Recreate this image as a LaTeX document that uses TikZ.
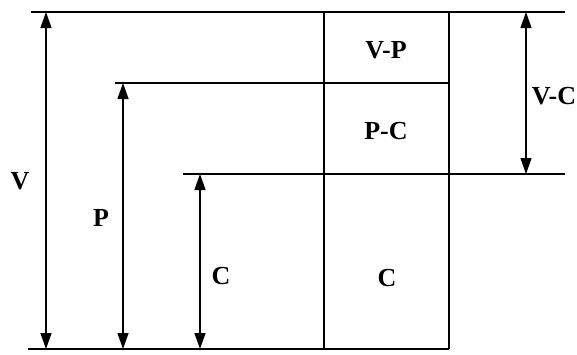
\documentclass[tikz,border=0pt]{standalone}
\usepackage{fontspec}
\setmainfont{Liberation Serif}
\usetikzlibrary{arrows.meta}
\begin{document}
\begin{tikzpicture}[x=1pt,y=-1pt,
  ln/.style={line width=1.4pt},
  dim/.style={line width=1.3pt,{Triangle[length=16pt,width=11pt]}-{Triangle[length=16pt,width=11pt]}},
  lbl/.style={font=\fontsize{26}{28}\selectfont\bfseries,inner sep=0pt}]
\useasboundingbox (0,0) rectangle (577,354);
% levels
\coordinate (tl) at (31,12);  \coordinate (tr) at (565,12);
\coordinate (pl) at (115,83); \coordinate (pr) at (449,83);
\coordinate (cl) at (183,174); \coordinate (cr) at (565,174);
\coordinate (bl) at (28,349); \coordinate (br) at (449,349);
\coordinate (v1t) at (324,12); \coordinate (v1b) at (324,349);
\coordinate (v2t) at (449,12); \coordinate (v2b) at (449,349);
\draw[ln] (tl) -- (tr);
\draw[ln] (pl) -- (pr);
\draw[ln] (cl) -- (cr);
\draw[ln] (bl) -- (br);
\draw[ln] (v1t) -- (v1b);
\draw[ln] (v2t) -- (v2b);
% dimension arrows
\coordinate (av1) at (46,12);  \coordinate (av2) at (46,349);
\coordinate (ap1) at (123,83); \coordinate (ap2) at (123,349);
\coordinate (ac1) at (200,174); \coordinate (ac2) at (200,349);
\coordinate (avc1) at (526,12); \coordinate (avc2) at (526,174);
\draw[dim] (av1) -- (av2);
\draw[dim] (ap1) -- (ap2);
\draw[dim] (ac1) -- (ac2);
\draw[dim] (avc1) -- (avc2);
% labels
\node[lbl] (lv) at (20,181) {V};
\node[lbl] (lp) at (101,218) {P};
\node[lbl] (lc) at (221,276) {C};
\node[lbl] (lvp) at (386,50) {V-P};
\node[lbl] (lpc) at (386,131) {P-C};
\node[lbl] (lcc) at (387,278) {C};
\node[lbl] (lvc) at (554,96) {V-C};
\end{tikzpicture}
\end{document}
